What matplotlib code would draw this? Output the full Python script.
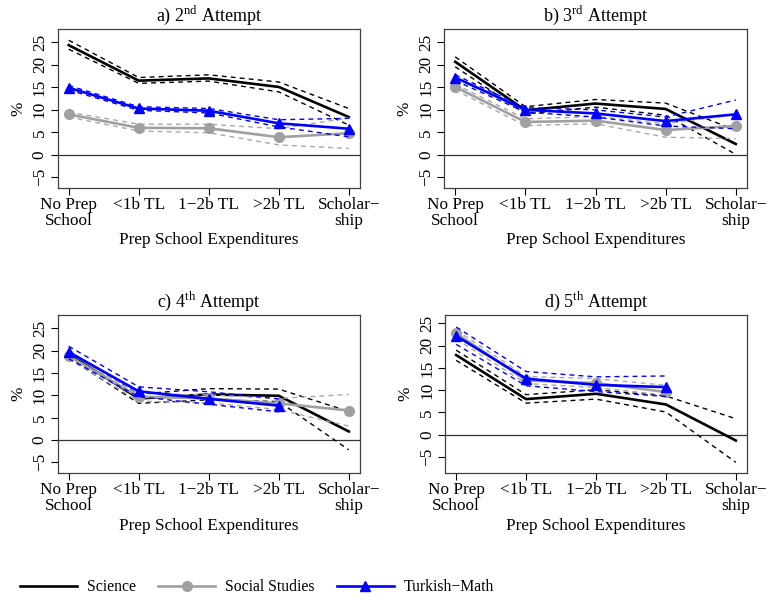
import numpy as np
import matplotlib
matplotlib.use("Agg")
import matplotlib.pyplot as plt
from matplotlib.lines import Line2D

plt.rcParams['font.family'] = ['Liberation Serif', 'DejaVu Serif']
plt.rcParams['mathtext.fontset'] = 'custom'
plt.rcParams['mathtext.rm'] = 'Liberation Serif'
plt.rcParams['font.size'] = 12.4

nan = np.nan
categories = ["No Prep\nSchool", "<1b TL", "1\u22122b TL", ">2b TL", "Scholar\u2212\nship"]
titles = ["a) 2$^{\\mathrm{nd}}$ Attempt", "b) 3$^{\\mathrm{rd}}$ Attempt",
          "c) 4$^{\\mathrm{th}}$ Attempt", "d) 5$^{\\mathrm{th}}$ Attempt"]
series_names = ["Science", "Social Studies", "Turkish\u2212Math"]

# estimate, lower, upper per attempt
sci = [[24.4, 16.5, 17.0, 15.1, 8.4],
       [20.7, 9.9, 11.4, 10.2, 2.4],
       [19.2, 9.3, 10.2, 9.9, 1.9],
       [17.9, 8.0, 9.2, 6.8, -1.3]]
sci_lo = [[23.5, 15.9, 16.4, 14.0, 6.6],
          [19.6, 9.1, 10.6, 8.8, 0.1],
          [18.4, 8.2, 9.0, 8.6, -2.2],
          [16.7, 7.1, 8.0, 5.1, -6.2]]
sci_hi = [[25.5, 17.2, 17.8, 16.2, 10.3],
          [21.8, 10.7, 12.3, 11.5, 5.5],
          [19.9, 10.3, 11.5, 11.4, 6.4],
          [19.0, 9.0, 10.1, 8.7, 3.6]]

soc = [[9.0, 6.0, 5.9, 3.9, 4.8],
       [15.1, 7.3, 7.6, 5.5, 6.4],
       [18.8, 9.7, 9.3, 8.2, 6.6],
       [22.8, 12.2, 11.6, 9.6, nan]]
soc_lo = [[8.4, 5.3, 4.9, 2.2, 1.4],
          [14.4, 6.5, 6.9, 3.9, 3.6],
          [18.2, 8.7, 8.3, 6.8, 3.1],
          [21.5, 11.5, 10.6, 8.9, nan]]
soc_hi = [[9.5, 6.8, 6.8, 5.8, 8.2],
          [15.7, 8.0, 8.5, 6.9, 9.0],
          [19.5, 10.4, 10.1, 9.3, 10.2],
          [23.5, 13.1, 12.6, 11.1, nan]]

tm = [[14.9, 10.3, 9.8, 7.0, 5.8],
      [17.2, 10.0, 9.2, 7.5, 9.0],
      [19.7, 10.9, 9.2, 7.7, nan],
      [22.2, 12.6, 11.2, 10.7, nan]]
tm_lo = [[14.4, 9.9, 9.3, 6.2, 4.0],
         [16.5, 9.5, 8.4, 6.4, 5.8],
         [18.2, 9.7, 8.0, 6.3, nan],
         [20.3, 11.0, 9.7, 8.6, nan]]
tm_hi = [[15.4, 10.7, 10.3, 7.8, 8.1],
         [17.8, 10.5, 10.0, 8.4, 12.2],
         [21.0, 11.9, 10.8, 9.2, nan],
         [24.2, 14.2, 13.0, 13.2, nan]]

ylims = [(-7.4, 28.0), (-7.4, 28.0), (-7.4, 28.0), (-8.6, 26.9)]

W, H = 767, 600
fig = plt.figure(figsize=(W / 100, H / 100), dpi=100)

# axes boxes in pixels: left, top, right, bottom
boxes = [(57.5, 29, 360, 188), (444, 29, 747, 188),
         (57.5, 315, 360, 473), (445, 315, 747, 473)]

colors = ['black', '#a0a0a0', '#0000ff']
dash_colors = ['black', '#a8a8a8', '#0000ff']
markers = [None, 'o', '^']
x = np.arange(1, 6)

for i, (l, t, r, b) in enumerate(boxes):
    ax = fig.add_axes([l / W, 1 - b / H, (r - l) / W, (b - t) / H])
    ax.axhline(0, color='0.2', lw=0.9)
    groups = [(sci, sci_lo, sci_hi), (soc, soc_lo, soc_hi), (tm, tm_lo, tm_hi)]
    for k, (est, lo, hi) in enumerate(groups):
        ax.plot(x, lo[i], color=dash_colors[k], lw=1.0, dashes=(3.5, 3))
        ax.plot(x, hi[i], color=dash_colors[k], lw=1.0, dashes=(3.5, 3))
        ax.plot(x, est[i], color=colors[k], lw=1.9, marker=markers[k],
                markersize=7 if k == 1 else 6.5)
    ax.set_xlim(0.84, 5.16)
    ax.set_ylim(*ylims[i])
    ax.set_xticks(x)
    ax.set_xticklabels(categories, linespacing=1.0)
    ax.set_yticks([-5, 0, 5, 10, 15, 20, 25])
    ax.tick_params(axis='y', labelrotation=90, length=5, width=0.8, pad=2)
    ax.tick_params(axis='x', length=5, width=0.8, pad=1.5)
    for lab in ax.get_yticklabels():
        lab.set_va('center')
    for s in ax.spines.values():
        s.set_linewidth(0.9)
        s.set_color('0.25')
    ax.set_ylabel('%', labelpad=4)
    ax.set_xlabel('Prep School Expenditures', labelpad=2.5)
    ax.set_title(titles[i], fontsize=13, pad=6)

handles = [Line2D([], [], color=colors[k], lw=1.9, marker=markers[k],
                  markersize=7 if k == 1 else 6.5) for k in range(3)]
fig.legend(handles, series_names, loc='center left', ncol=3,
           bbox_to_anchor=(20 / W, 1 - 587 / H), frameon=False,
           handlelength=3.6, handletextpad=0.64, columnspacing=1.45,
           borderpad=0, borderaxespad=0, fontsize=11.3)

fig.savefig('out.png', dpi=100)
